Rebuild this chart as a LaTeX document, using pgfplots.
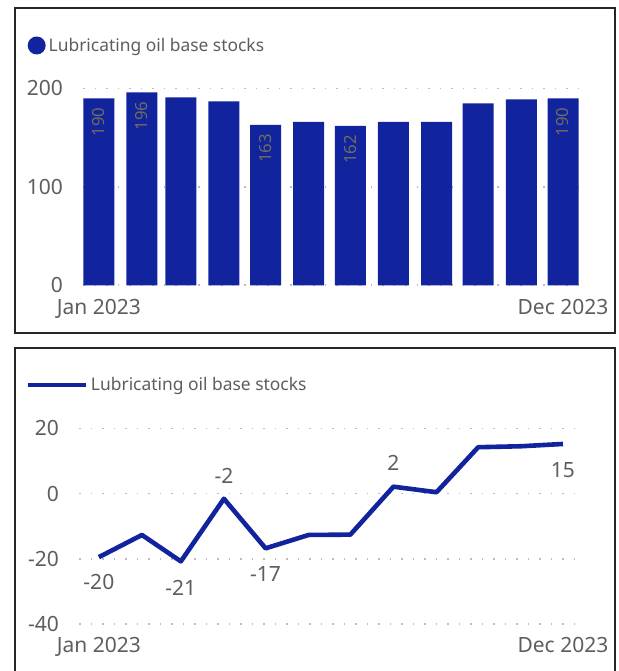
\documentclass[border=0pt]{standalone}
\usepackage{fontspec}
\setmainfont{Noto Sans}
\usepackage{pgfplots}
\pgfplotsset{compat=1.18}
\usepackage{pgfplotstable}
\definecolor{bblue}{RGB}{18,35,158}
\definecolor{tgray}{RGB}{96,94,92}
\definecolor{dgray}{RGB}{190,188,186}
\definecolor{blab}{RGB}{110,110,92}

\pgfplotstableread{
x y lab
0 190 190
31 196 196
59 191 {}
90 187 {}
120 163 163
151 166 {}
181 162 162
212 166 {}
243 166 {}
273 185 {}
304 189 {}
334 190 190
}\bars

\pgfplotstableread{
x y lab off
0 -19.5 -20 -25
31 -12.7 {} 0
59 -20.8 -21 -27
90 -1.6 -2 23
120 -16.8 -17 -26
151 -12.7 {} 0
181 -12.6 {} 0
212 2.1 2 24
243 0.4 {} 0
273 14.2 {} 0
304 14.5 {} 0
334 15.2 15 -26
}\lines

\pgfplotsset{
  panel/.style={
    scale only axis, clip=false,
    axis line style={draw=none},
    major tick style={draw=none},
    ymajorgrids,
    grid style={dash pattern=on 1.6pt off 9.9pt, line width=1.6pt, color=dgray},
    xtick={0,334}, xticklabels={Jan 2023,Dec 2023},
    tick label style={font=\fontsize{21}{24}\selectfont, text=tgray},
    /pgf/number format/assume math mode=true,
    yticklabel style={inner sep=0pt, xshift=-20pt},
    xticklabel style={inner sep=0pt, yshift=-13.5pt},
    legend style={at={(0,1)}, anchor=west, draw=none, fill=none,
      inner sep=0pt, outer sep=0pt, column sep=3pt,
      nodes={inner sep=0pt, text=tgray},
      font=\fontsize{17.4}{19}\selectfont},
  }
}

\begin{document}
\begin{tikzpicture}
\useasboundingbox (0pt,0pt) rectangle (618pt,671pt);
\fill[white] (0pt,0pt) rectangle (618pt,671pt);
\draw[line width=1.8pt, black!85] (15pt,663pt) rectangle (615pt,338pt);
\draw[line width=1.8pt, black!85] (15pt,-5pt) -- (15pt,323pt) -- (615pt,323pt) -- (615pt,-5pt);

\begin{axis}[panel,
  at={(83pt,385.7pt)}, anchor=south west,
  width=495pt, height=196.8pt,
  xmin=-11.44, xmax=344.8, ymin=0, ymax=200,
  ytick={0,100,200},
  legend style={xshift=-55.3pt, yshift=43pt},
  legend image code/.code={\fill[bblue] (9pt,0pt) circle (9pt);},
]
\addplot[ybar, bar width=31pt, bar shift=0pt, fill=bblue, draw=none,
  point meta=explicit symbolic,
  nodes near coords,
  nodes near coords style={yshift=-9pt, rotate=90, anchor=east, inner sep=0pt,
    font=\fontsize{16.7}{20}\selectfont, text=blab},
] table[x=x, y=y, meta=lab] {\bars};
\addlegendentry{Lubricating oil base stocks}
\end{axis}

\begin{axis}[panel,
  at={(79pt,47pt)}, anchor=south west,
  width=502pt, height=195.7pt,
  xmin=-14.3, xmax=347, ymin=-40, ymax=20,
  ytick={-40,-20,0,20},
  legend style={xshift=-53.5pt, yshift=43.3pt, column sep=3pt},
  legend image code/.code={\draw[line width=4.5pt, bblue] (0pt,0pt) -- (58pt,0pt);},
]
\addplot[bblue, line width=4.6pt, line join=round,
  point meta=explicit symbolic,
  visualization depends on={\thisrow{off} \as \myoff},
  nodes near coords,
  nodes near coords style={anchor=center, yshift=\myoff pt, inner sep=0pt,
    font=\fontsize{21}{24}\selectfont, text=tgray},
] table[x=x, y=y, meta=lab] {\lines};
\addlegendentry{Lubricating oil base stocks}
\end{axis}
\end{tikzpicture}
\end{document}
